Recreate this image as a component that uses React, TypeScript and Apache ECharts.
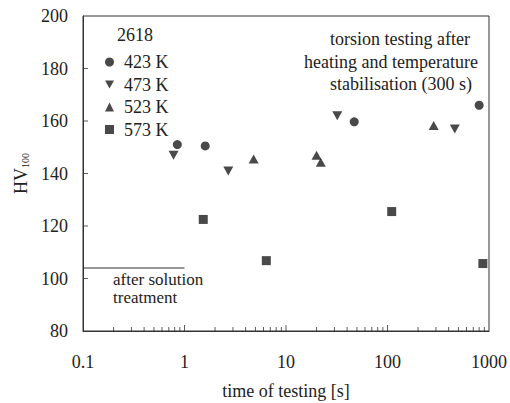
import React, { useEffect, useRef } from "react";
import * as echarts from "echarts";

const alloy = "2618";
const seriesNames = ["423 K", "473 K", "523 K", "573 K"];
const s423: [number, number][] = [[0.85, 151], [1.6, 150.5], [47, 159.7], [800, 166]];
const s473: [number, number][] = [[0.78, 147], [2.7, 141], [32, 162], [460, 157]];
const s523: [number, number][] = [[4.8, 145.5], [20, 147], [22, 144.3], [285, 158.3]];
const s573: [number, number][] = [[1.53, 122.5], [6.4, 106.8], [110, 125.5], [870, 105.7]];
const solutionLine: [number, number][] = [[0.1, 104], [1, 104]];
const xMajorTicks = [1, 10, 100];
const xMinorTicks = [0.2, 0.3, 0.4, 0.5, 0.6, 0.7, 0.8, 0.9, 2, 3, 4, 5, 6, 7, 8, 9, 20, 30, 40, 50, 60, 70, 80, 90, 200, 300, 400, 500, 600, 700, 800, 900];
const yTicks = [100, 120, 140, 160, 180];
const annotationLines = ["torsion testing after", "heating and temperature", "stabilisation (300 s)"];
const solutionLabel = ["after solution", "treatment"];

const FONT = "Liberation Serif";
const FS = 18;
const INK = "#222";
const LINE = "#333";

export default function App() {
  const ref = useRef<HTMLDivElement>(null);
  useEffect(() => {
    document.body.style.margin = "0";
    if (!ref.current) return;
    const chart = echarts.init(ref.current, null, { renderer: "svg" });
    const mk = (name: string, data: [number, number][], symbol: string, size: number | number[]) => ({
      name,
      type: "scatter",
      data,
      symbol,
      symbolSize: size,
      itemStyle: { color: "#1c1c1c" },
      z: 5,
    });
    const tickSeries = (data: [number, number][], size: number[], offset: number[]) => ({
      type: "scatter",
      silent: true,
      clip: false,
      data,
      symbol: "rect",
      symbolSize: size,
      symbolOffset: offset,
      itemStyle: { color: LINE },
      z: 4,
    });
    const txt = (s: string, extra: any, fontSize = FS, lineHeight?: number) => ({
      type: "text",
      ...extra,
      style: { text: s, fontFamily: FONT, fontSize, fill: INK, lineHeight },
    });
    chart.setOption({
      animation: false,
      textStyle: { fontFamily: FONT, color: INK },
      grid: {
        left: 83,
        right: 21,
        top: 16,
        bottom: 72,
        outerBoundsMode: "none",
        containLabel: false,
        show: true,
        borderColor: LINE,
        borderWidth: 1,
        backgroundColor: "transparent",
      },
      legend: {
        orient: "vertical",
        left: 100,
        top: 48,
        itemWidth: 9,
        itemHeight: 9,
        itemGap: 4.5,
        data: seriesNames,
        textStyle: { fontFamily: FONT, fontSize: FS, color: INK, padding: [0, 0, 0, 5] },
      },
      xAxis: {
        type: "log",
        logBase: 10,
        min: 0.1,
        max: 1000,
        name: "time of testing [s]",
        nameLocation: "middle",
        nameGap: 51,
        nameTextStyle: { fontFamily: FONT, fontSize: FS, color: INK },
        axisLine: { show: true, lineStyle: { color: LINE, width: 1 } },
        axisTick: { show: false },
        axisLabel: {
          margin: 22,
          fontFamily: FONT,
          fontSize: FS,
          color: INK,
          formatter: (v: number) => (v < 1 ? String(Number(v.toFixed(1))) : String(Math.round(v))),
        },
        splitLine: { show: false },
      },
      yAxis: {
        type: "value",
        min: 80,
        max: 200,
        interval: 20,
        name: "{a|HV}{b|100}",
        nameLocation: "middle",
        nameRotate: 90,
        nameGap: 50,
        nameTextStyle: {
          rich: {
            a: { fontFamily: FONT, fontSize: FS, color: INK },
            b: { fontFamily: FONT, fontSize: 10, color: INK, padding: [8, 0, 0, 0] },
          },
        },
        axisLine: { show: true, lineStyle: { color: LINE, width: 1 } },
        axisTick: { show: false },
        axisLabel: { margin: 15, fontFamily: FONT, fontSize: FS, color: INK },
        splitLine: { show: false },
      },
      graphic: [
        txt(alloy, { left: 117, top: 26 }),
        txt(annotationLines[0], { right: 40, top: 30 }),
        txt(annotationLines[1], { right: 32, top: 53 }),
        txt(annotationLines[2], { right: 38, top: 75 }),
        txt(solutionLabel.join("\n"), { left: 113, top: 270 }, 17, 18),
      ],
      series: [
        mk(seriesNames[0], s423, "circle", 9),
        mk(seriesNames[1], s473, "path://M0,0L10,0L5,9Z", [10, 9]),
        mk(seriesNames[2], s523, "triangle", [10, 9]),
        mk(seriesNames[3], s573, "rect", 9),
        {
          type: "line",
          data: solutionLine,
          symbol: "none",
          lineStyle: { color: LINE, width: 1 },
          silent: true,
          z: 3,
        },
        tickSeries(xMinorTicks.map((v) => [v, 80] as [number, number]), [1, 4], [0, -2]),
        tickSeries(xMajorTicks.map((v) => [v, 80] as [number, number]), [1, 6], [0, -3]),
        tickSeries(yTicks.map((v) => [0.1, v] as [number, number]), [5, 1], [2.5, 0]),
      ],
    });
    return () => chart.dispose();
  }, []);
  return <div ref={ref} style={{ width: 510, height: 403, background: "#fff" }} />;
}
